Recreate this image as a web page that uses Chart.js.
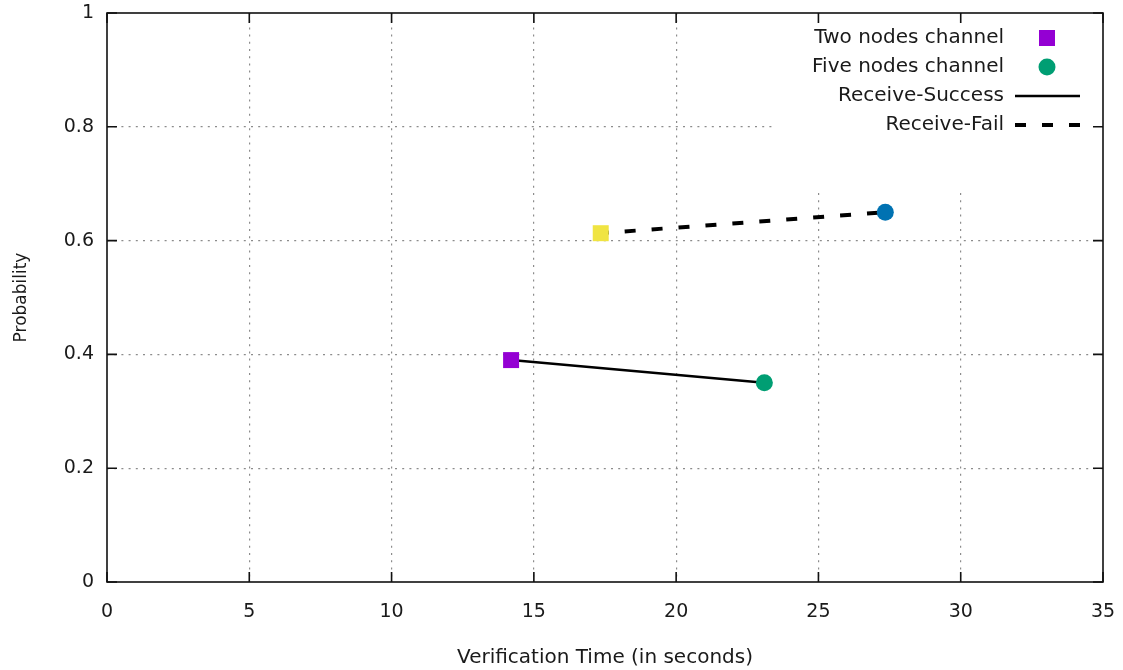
<!DOCTYPE html>
<html>
<head>
<meta charset="utf-8">
<script src="https://cdn.jsdelivr.net/npm/chart.js@4.4.1/dist/chart.umd.min.js"></script>
<style>
  body { margin: 0; background: #fff; }
  #wrap { width: 1123px; height: 670px; }
</style>
</head>
<body>
<div id="wrap"><canvas id="chart" width="1123" height="670"></canvas></div>
<script>
// values
const successTimes = [14.2, 23.1];
const successProbs = [0.39, 0.35];
const failTimes = [17.35, 27.35];
const failProbs = [0.613, 0.65];

const xTicks = [0, 5, 10, 15, 20, 25, 30, 35];
const yTicks = [0, 0.2, 0.4, 0.6, 0.8, 1];

const legendLabels = ['Two nodes channel', 'Five nodes channel', 'Receive-Success', 'Receive-Fail'];

const FONT = '"DejaVu Sans", Verdana, sans-serif';
const TEXT = '#1a1a1a';

// inward ticks, full frame and the key, gnuplot style
const framePlugin = {
    id: 'frame',
    beforeDatasetsDraw(chart) {
        const ctx = chart.ctx;
        ctx.save();
        ctx.fillStyle = '#fff';
        ctx.fillRect(775, chart.chartArea.top + 1, chart.chartArea.right - 776, 178);
        ctx.restore();
    },
    afterDatasetsDraw(chart) {
        const { ctx, chartArea: a, scales } = chart;
        const t = 10;
        ctx.save();
        ctx.strokeStyle = '#111';
        ctx.lineWidth = 1.6;
        ctx.strokeRect(a.left, a.top, a.right - a.left, a.bottom - a.top);
        ctx.beginPath();
        xTicks.forEach(v => {
            const x = scales.x.getPixelForValue(v);
            ctx.moveTo(x, a.bottom); ctx.lineTo(x, a.bottom - t);
            ctx.moveTo(x, a.top); ctx.lineTo(x, a.top + t);
        });
        yTicks.forEach(v => {
            const y = scales.y.getPixelForValue(v);
            ctx.moveTo(a.left, y); ctx.lineTo(a.left + t, y);
            ctx.moveTo(a.right, y); ctx.lineTo(a.right - t, y);
        });
        ctx.stroke();

        // key
        const textX = 1004, symX = 1047;
        const rows = [38, 67, 96, 125];
        ctx.font = '20px ' + FONT;
        ctx.fillStyle = TEXT;
        ctx.textAlign = 'right';
        ctx.textBaseline = 'middle';
        legendLabels.forEach((lab, i) => ctx.fillText(lab, textX, rows[i]));

        ctx.fillStyle = '#9400d3';
        ctx.fillRect(symX - 8, rows[0] - 8, 16, 16);
        ctx.fillStyle = '#009e73';
        ctx.beginPath();
        ctx.arc(symX, rows[1], 8.5, 0, Math.PI * 2);
        ctx.fill();

        ctx.strokeStyle = '#000';
        ctx.lineWidth = 2.5;
        ctx.beginPath();
        ctx.moveTo(1015, rows[2]); ctx.lineTo(1080, rows[2]);
        ctx.stroke();
        ctx.lineWidth = 4;
        ctx.setLineDash([11, 16]);
        ctx.beginPath();
        ctx.moveTo(1015, rows[3]); ctx.lineTo(1080, rows[3]);
        ctx.stroke();
        ctx.restore();
    }
};

const gridColor = ctx => (ctx.tick.value === 0 || ctx.tick.value === 35 || ctx.tick.value === 1) ? 'rgba(0,0,0,0)' : '#8c8c8c';
const noPad = s => { s.paddingLeft = 0; s.paddingRight = 0; s.paddingTop = 0; s.paddingBottom = 0; };

new Chart(document.getElementById('chart'), {
    type: 'scatter',
    data: {
        datasets: [{
            label: 'Two nodes channel',
            data: [{ x: successTimes[0], y: successProbs[0] }],
            pointStyle: 'rect', pointRadius: 11.3, pointHoverRadius: 11.3,
            backgroundColor: '#9400d3', borderColor: '#9400d3', borderWidth: 0,
            order: 1
        }, {
            label: 'Five nodes channel',
            data: [{ x: successTimes[1], y: successProbs[1] }],
            pointStyle: 'circle', pointRadius: 8.5, pointHoverRadius: 8.5,
            backgroundColor: '#009e73', borderColor: '#009e73', borderWidth: 0,
            order: 1
        }, {
            label: 'Two nodes fail',
            data: [{ x: failTimes[0], y: failProbs[0] }],
            pointStyle: 'rect', pointRadius: 11.3, pointHoverRadius: 11.3,
            backgroundColor: '#f0e442', borderColor: '#f0e442', borderWidth: 0,
            order: 1
        }, {
            label: 'Five nodes fail',
            data: [{ x: failTimes[1], y: failProbs[1] }],
            pointStyle: 'circle', pointRadius: 8.5, pointHoverRadius: 8.5,
            backgroundColor: '#0072b2', borderColor: '#0072b2', borderWidth: 0,
            order: 1
        }, {
            label: 'Receive-Success',
            data: successTimes.map((x, i) => ({ x, y: successProbs[i] })),
            showLine: true, pointRadius: 0, borderColor: '#000', borderWidth: 2.5,
            order: 2
        }, {
            label: 'Receive-Fail',
            data: failTimes.map((x, i) => ({ x, y: failProbs[i] })),
            showLine: true, pointRadius: 0, borderColor: '#000', borderWidth: 4,
            borderDash: [11, 16], borderDashOffset: 3,
            order: 2
        }]
    },
    options: {
        responsive: false,
        animation: false,
        layout: { padding: { top: 13, right: 20, left: 0, bottom: 0 } },
        plugins: { legend: { display: false }, tooltip: { enabled: false } },
        scales: {
            x: {
                type: 'linear', min: 0, max: 35,
                afterBuildTicks: s => { s.ticks = xTicks.map(v => ({ value: v })); },
                afterFit: s => { s.height = 88; noPad(s); },
                border: { display: false, dash: [2, 5.2] },
                grid: { color: gridColor, lineWidth: 1.2, drawTicks: false },
                ticks: { color: TEXT, font: { family: FONT, size: 19 }, padding: 19, maxRotation: 0,
                         callback: v => String(v) },
                title: { display: true, text: 'Verification Time (in seconds)', color: TEXT,
                         font: { family: FONT, size: 20 }, padding: { top: 3, bottom: 0 } }
            },
            y: {
                type: 'linear', min: 0, max: 1,
                afterBuildTicks: s => { s.ticks = yTicks.map(v => ({ value: v })); },
                afterFit: s => { s.width = 107; noPad(s); },
                border: { display: false, dash: [2, 5.2] },
                grid: { color: gridColor, lineWidth: 1.2, drawTicks: false },
                ticks: { color: TEXT, font: { family: FONT, size: 19 }, padding: 13,
                         callback: v => String(v) },
                title: { display: true, text: 'Probability', color: TEXT,
                         font: { family: FONT, size: 17 }, padding: { top: 11, bottom: 0 } }
            }
        }
    },
    plugins: [framePlugin]
});
</script>
</body>
</html>
